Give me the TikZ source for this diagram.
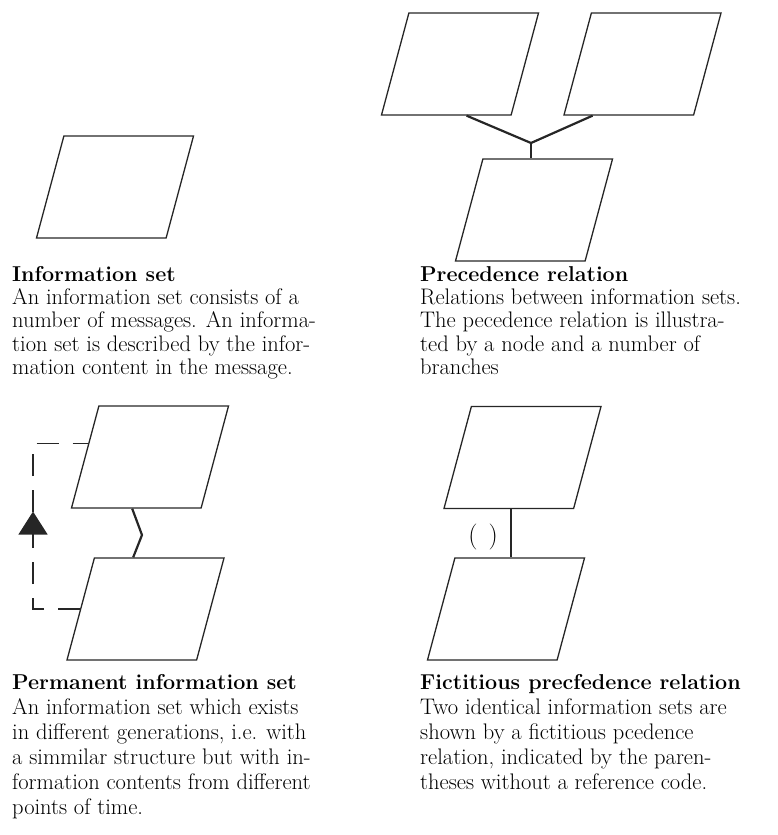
\documentclass[tikz,border=0pt]{standalone}
\usepackage{fontspec}
\usetikzlibrary{shapes.geometric,calc,arrows.meta,decorations.markings}
\newcommand{\caphead}[1]{{\fontsize{21.5}{23}\selectfont\textbf{#1}}}
\tikzset{
  infoset/.style={trapezium, trapezium left angle=75, trapezium right angle=105,
    trapezium stretches=true, draw=black!85, line width=1.3pt,
    minimum width=157pt, minimum height=102pt, inner sep=1pt},
  branch/.style={draw=black!85, line width=2.2pt},
  permflow/.style={draw=black!85, line width=1.3pt, dash pattern=on 22pt off 14pt,
    postaction={decorate}, decoration={markings, mark=at position 0.54 with
      {\arrow{Triangle[length=23pt, width=29pt]}}}},
  caption/.style={anchor=north west, align=left, inner sep=0pt},
  captop/.style={caption, font=\fontsize{22.5}{23.3}\selectfont},
  capbot/.style={caption, font=\fontsize{22.5}{25}\selectfont},
  parenlab/.style={font=\fontsize{26}{28}\selectfont, inner sep=0pt},
}

\begin{document}
\begin{tikzpicture}[x=1pt, y=-1pt]
\useasboundingbox (0,0) rectangle (777,835);
% information set
\node[infoset] (iset) at (115,187) {};
\node[captop] (isettxt) at (12,264.7) {\strut\caphead{Information set}\\
  An information set consists of a\\number of messages. An informa-\\
  tion set is described by the infor-\\mation content in the message.};
% precedence relation: two sets joined by a node into a third
\node[infoset] (prA) at (460,64) {};
\node[infoset] (prB) at (642.5,64) {};
\node[infoset] (prC) at (534,210) {};
\coordinate (prjoin) at (531,143);
\draw[branch] ($(prA.bottom left corner)!0.656!(prA.bottom right corner)$) -- (prjoin)
  -- ($(prB.bottom left corner)!0.225!(prB.bottom right corner)$);
\draw[branch] (prjoin) -- (prjoin |- prC.north);
\node[captop] (prtxt) at (420,264.7) {\strut\caphead{Precedence relation}\\
  Relations between information sets.\\The pecedence relation is illustra-\\
  ted by a node and a number of\\branches};
% permanent information set
\node[infoset] (pmA) at (150,457) {};
\node[infoset] (pmB) at (145.5,609) {};
\coordinate (pmkink) at (142,535);
\draw[branch] ($(pmA.bottom left corner)!0.47!(pmA.bottom right corner)$) -- (pmkink)
  -- ($(pmB.top left corner)!0.3!(pmB.top right corner)$);
\draw[permflow] (pmB.west) -- ++(-47,0)
  |- ($(pmA.bottom left corner)!0.63!(pmA.top left corner)$);
\node[capbot] (pmtxt) at (12,671.5) {\strut\caphead{Permanent information set}\\
  An information set which exists\\in different generations, i.e. with\\
  a simmilar structure but with in-\\formation contents from different\\
  points of time.};
% fictitious precedence relation
\node[infoset] (fpA) at (522.5,457.5) {};
\node[infoset] (fpB) at (506,609) {};
\coordinate (fptop) at ($(fpA.bottom left corner)!0.52!(fpA.bottom right corner)$);
\draw[branch] (fptop) -- (fptop |- fpB.north);
\node[parenlab] (fpparen) at (483,537) {(\hspace{11pt})};
\node[capbot] (fptxt) at (420,671.5) {\strut\caphead{Fictitious precfedence relation}\\
  Two identical information sets are\\shown by a fictitious pcedence\\
  relation, indicated by the paren-\\theses without a reference code.};
\end{tikzpicture}
\end{document}
